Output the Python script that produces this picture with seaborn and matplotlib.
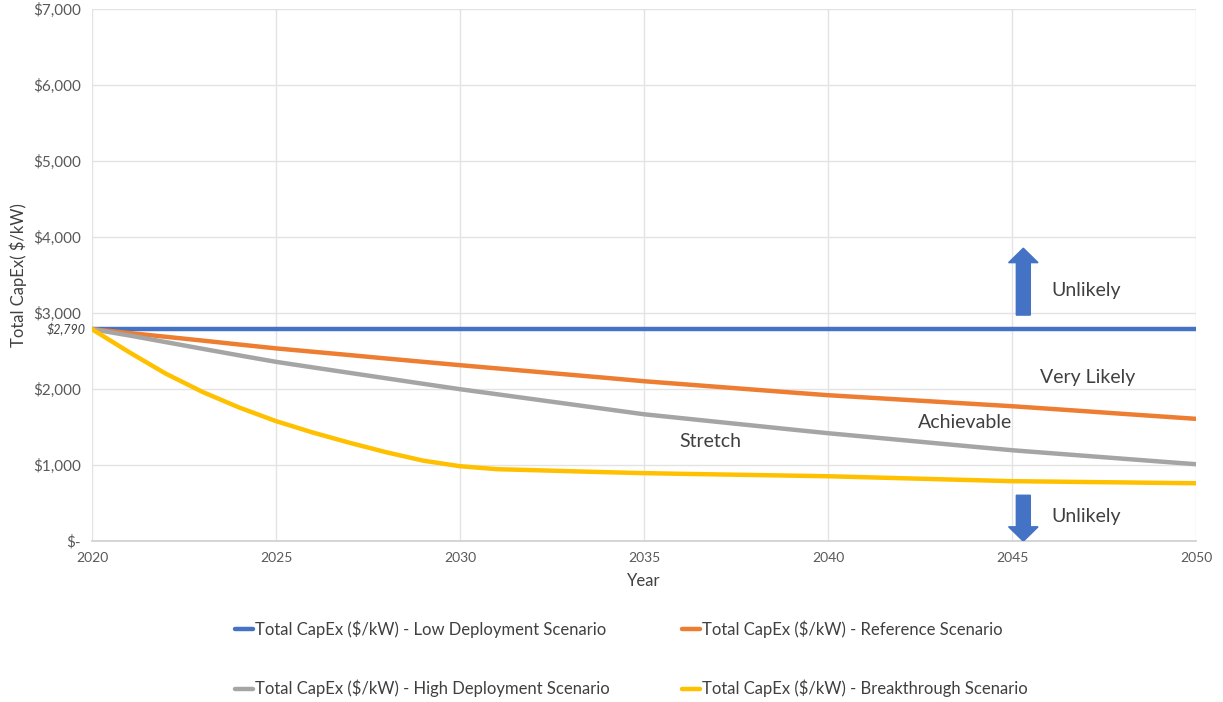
import matplotlib
matplotlib.use("Agg")
import matplotlib.pyplot as plt
from matplotlib.patches import FancyArrow
import seaborn as sns
import pandas as pd

years = list(range(2020, 2051))

low_deployment = [2790] * 31
reference = [2790, 2740, 2690, 2640, 2588, 2537, 2493, 2449, 2404, 2360,
             2316, 2274, 2232, 2190, 2148, 2105, 2068, 2031, 1994, 1957,
             1921, 1892, 1863, 1834, 1805, 1776, 1743, 1710, 1676, 1643, 1610]
high_deployment = [2790, 2708, 2620, 2532, 2445, 2360, 2287, 2215, 2143, 2071,
                   2000, 1934, 1868, 1802, 1736, 1670, 1620, 1570, 1520, 1470,
                   1421, 1376, 1331, 1286, 1241, 1197, 1160, 1123, 1086, 1049, 1013]
breakthrough = [2790, 2490, 2206, 1965, 1759, 1580, 1430, 1295, 1170, 1060,
                987, 948, 935, 921, 908, 896, 887, 879, 871, 863,
                855, 842, 829, 816, 803, 790, 785, 779, 774, 768, 763]

series_names = [
    "Total CapEx ($/kW) - Low Deployment Scenario",
    "Total CapEx ($/kW) - Reference Scenario",
    "Total CapEx ($/kW) - High Deployment Scenario",
    "Total CapEx ($/kW) - Breakthrough Scenario",
]
series_values = [low_deployment, reference, high_deployment, breakthrough]
series_colors = ["#4472C4", "#ED7D31", "#A5A5A5", "#FFC000"]

y_ticks = [0, 1000, 2000, 3000, 4000, 5000, 6000, 7000]
y_tick_labels = ["$-", "$1,000", "$2,000", "$3,000", "$4,000", "$5,000", "$6,000", "$7,000"]
x_ticks = [2020, 2025, 2030, 2035, 2040, 2045, 2050]
start_value = 2790

zones = [("Unlikely", 2046.05, 3300), ("Very Likely", 2045.75, 2160),
         ("Achievable", 2042.45, 1560), ("Stretch", 2035.95, 1310),
         ("Unlikely", 2046.05, 330)]

df = pd.concat([
    pd.DataFrame({"Year": years, "CapEx": vals, "Scenario": name})
    for name, vals in zip(series_names, series_values)
])

sns.set_theme(style="white")
plt.rcParams["font.family"] = ["Lato", "DejaVu Sans"]

fig = plt.figure(figsize=(12.23, 7.02), dpi=100)
ax = fig.add_axes([0.0752, 0.229, 0.903, 0.758])

sns.lineplot(data=df, x="Year", y="CapEx", hue="Scenario",
             hue_order=series_names, palette=series_colors,
             linewidth=3.2, ax=ax, legend=False, zorder=3)
for line in ax.get_lines():
    line.set_solid_joinstyle("round")

ax.set_xlim(2020, 2050)
ax.set_ylim(0, 7000)
ax.set_xticks(x_ticks)
ax.set_xticklabels([str(x) for x in x_ticks], fontsize=10, color="#595959")
ax.set_yticks(y_ticks)
ax.set_yticklabels(y_tick_labels, fontsize=11, color="#595959")
ax.tick_params(axis="both", length=0, pad=8)
ax.grid(True, color="#E3E3E3", linewidth=1)
for side in ["top", "right", "left"]:
    ax.spines[side].set_visible(False)
ax.spines["bottom"].set_color("#D0D0D0")

ax.set_xlabel("Year", fontsize=12, color="#404040", labelpad=6)
ax.set_ylabel("Total CapEx( $/kW)", fontsize=12, color="#404040", labelpad=4)

ax.text(-0.006, start_value, "$2,790", transform=ax.get_yaxis_transform(),
        ha="right", va="center", fontsize=9, style="italic", color="#404040")

for label, x, y in zones:
    ax.text(x, y, label, fontsize=14, color="#404040", ha="left", va="center")

arrow_kw = dict(width=0.38, head_width=0.8, length_includes_head=True,
                color="#4472C4", zorder=4)
ax.add_patch(FancyArrow(2045.3, 2975, 0, 880, head_length=190, **arrow_kw))
ax.add_patch(FancyArrow(2045.3, 605, 0, -605, head_length=190, **arrow_kw))

handles = [plt.Line2D([0], [0], color=c, linewidth=3.2) for c in series_colors]
order = [0, 2, 1, 3]
fig.legend([handles[i] for i in order], [series_names[i] for i in order],
           loc="upper left", bbox_to_anchor=(0.180, 0.137), ncol=2,
           frameon=False, fontsize=12, handlelength=1.1, handletextpad=0.1,
           labelspacing=2.5, columnspacing=4.3, labelcolor="#404040")

fig.savefig("out.png", dpi=100, facecolor="white")
